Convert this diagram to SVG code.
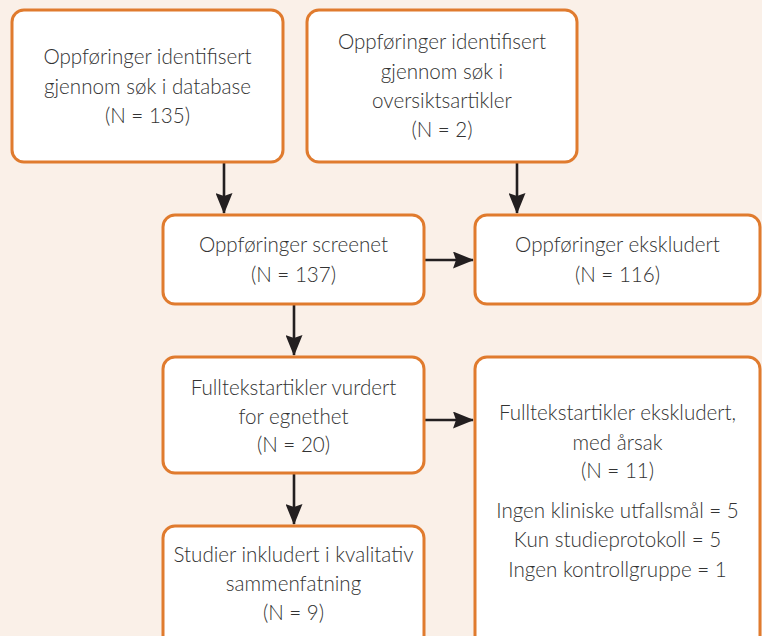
<svg xmlns="http://www.w3.org/2000/svg" width="762" height="636" viewBox="0 0 762 636">
<defs>
<style>
.box{fill:#ffffff;stroke:#E07B2E;stroke-width:3}
.t{font-family:Lato,"Open Sans","Liberation Sans",sans-serif;font-weight:300;font-size:20.6px;fill:#333333;text-anchor:middle}
.c{stroke:#231F20;stroke-width:2.6;fill:none}
</style>
<marker id="ah" viewBox="0 0 21 17" refX="20" refY="8.5" markerWidth="21" markerHeight="17" orient="auto" markerUnits="userSpaceOnUse">
<path d="M0,0 L21,8.5 L0,17 L3,8.5 z" fill="#231F20"/>
</marker>
</defs>
<rect width="762" height="636" fill="#FAF0E8"/>
<g id="connectors">
<line class="c" x1="224" y1="163" x2="224" y2="213" marker-end="url(#ah)"/>
<line class="c" x1="517" y1="163" x2="517" y2="213" marker-end="url(#ah)"/>
<line class="c" x1="425" y1="260" x2="473" y2="260" marker-end="url(#ah)"/>
<line class="c" x1="294" y1="305" x2="294" y2="355" marker-end="url(#ah)"/>
<line class="c" x1="425" y1="420" x2="473" y2="420" marker-end="url(#ah)"/>
<line class="c" x1="294" y1="474" x2="294" y2="524" marker-end="url(#ah)"/>
</g>
<g id="n1">
<rect class="box" x="12" y="10" width="271" height="152" rx="12"/>
<text class="t" x="147.5" y="64">Oppføringer identifisert</text>
<text class="t" x="147.5" y="94">gjennom søk i database</text>
<text class="t" x="147.5" y="123">(N = 135)</text>
</g>
<g id="n2">
<rect class="box" x="307" y="10" width="270" height="152" rx="12"/>
<text class="t" x="442" y="49">Oppføringer identifisert</text>
<text class="t" x="442" y="79">gjennom søk i</text>
<text class="t" x="442" y="108">oversiktsartikler</text>
<text class="t" x="442" y="137">(N = 2)</text>
</g>
<g id="n3">
<rect class="box" x="163" y="215" width="261" height="89" rx="12"/>
<text class="t" x="293.5" y="252">Oppføringer screenet</text>
<text class="t" x="293.5" y="282">(N = 137)</text>
</g>
<g id="n4">
<rect class="box" x="475" y="215" width="285" height="89" rx="12"/>
<text class="t" x="617.5" y="252">Oppføringer ekskludert</text>
<text class="t" x="617.5" y="282">(N = 116)</text>
</g>
<g id="n5">
<rect class="box" x="163" y="357" width="261" height="116" rx="12"/>
<text class="t" x="293.5" y="395">Fulltekstartikler vurdert</text>
<text class="t" x="293.5" y="424">for egnethet</text>
<text class="t" x="293.5" y="452">(N = 20)</text>
</g>
<g id="n6">
<rect class="box" x="475" y="357" width="285" height="300" rx="12"/>
<text class="t" x="617.5" y="420">Fulltekstartikler ekskludert,</text>
<text class="t" x="617.5" y="450">med årsak</text>
<text class="t" x="617.5" y="478">(N = 11)</text>
<text class="t" x="617.5" y="518">Ingen kliniske utfallsmål = 5</text>
<text class="t" x="617.5" y="547">Kun studieprotokoll = 5</text>
<text class="t" x="617.5" y="577">Ingen kontrollgruppe = 1</text>
</g>
<g id="n7">
<rect class="box" x="163" y="526" width="261" height="130" rx="12"/>
<text class="t" x="293.5" y="562">Studier inkludert i kvalitativ</text>
<text class="t" x="293.5" y="591">sammenfatning</text>
<text class="t" x="293.5" y="620">(N = 9)</text>
</g>
</svg>
